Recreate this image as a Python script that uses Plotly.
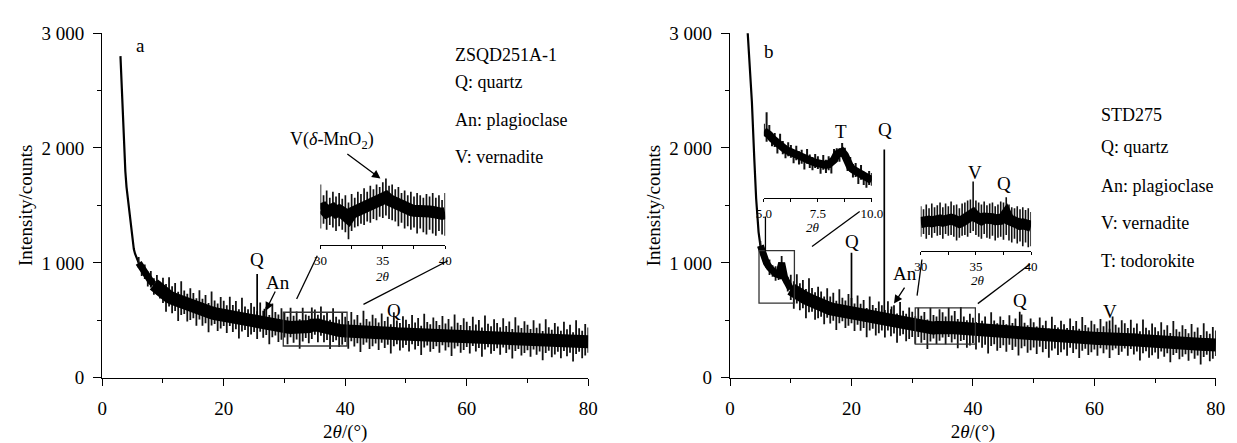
import numpy as np
import plotly.graph_objects as go

W, H = 1237, 443
FONT = "Liberation Serif, Times New Roman, serif"

# ---------------- panel a : ZSQD251A-1 ----------------
a_steep_x = [3.0, 3.2, 3.4, 3.6, 3.8, 4.0, 4.2, 4.4, 4.6, 4.8, 5.0, 5.2, 5.4, 5.6, 5.8, 6.0]
a_steep_y = [2800, 2520, 2250, 2000, 1800, 1660, 1560, 1460, 1360, 1260, 1180, 1120, 1080, 1050, 1025, 1000]

a_start, a_step = 6.0, 0.5
a_mid = [1000, 955, 910, 875, 840, 812, 785, 765, 745, 725,
         705, 692, 680, 668, 655, 645, 635, 623, 612, 602,
         592, 583, 575, 570, 565, 558, 552, 548, 545, 540,
         535, 528, 522, 517, 512, 506, 500, 496, 492, 488,
         485, 478, 472, 467, 462, 458, 455, 450, 445, 441,
         438, 435, 432, 428, 425, 435, 445, 457, 468, 459,
         450, 439, 428, 424, 420, 416, 412, 408, 405, 403,
         402, 401, 400, 399, 398, 396, 395, 394, 393, 391,
         390, 388, 386, 385, 384, 382, 381, 380, 379, 378,
         377, 376, 375, 373, 372, 371, 370, 369, 369, 368,
         368, 367, 366, 365, 365, 364, 363, 362, 362, 361,
         360, 359, 358, 357, 356, 355, 354, 353, 352, 350,
         348, 346, 345, 343, 342, 340, 338, 336, 335, 333,
         331, 330, 328, 326, 325, 324, 323, 321, 320, 319,
         318, 317, 317, 316, 316, 315, 314, 313, 312]
a_hi = [1050, 995, 985, 925, 930, 867, 895, 835, 870, 815,
        875, 797, 825, 748, 840, 760, 730, 778, 737, 692,
        762, 688, 720, 650, 750, 673, 647, 703, 670, 630,
        705, 633, 667, 597, 697, 621, 595, 651, 617, 578,
        655, 583, 617, 547, 647, 573, 550, 605, 570, 531,
        608, 540, 577, 508, 610, 550, 540, 612, 593, 549,
        620, 544, 573, 504, 605, 531, 507, 563, 530, 493,
        572, 506, 545, 479, 583, 511, 490, 549, 518, 481,
        560, 493, 531, 465, 569, 497, 476, 535, 504, 468,
        547, 481, 520, 453, 557, 486, 465, 524, 494, 458,
        538, 472, 511, 445, 550, 479, 458, 517, 487, 451,
        530, 464, 503, 437, 541, 470, 449, 508, 477, 440,
        518, 451, 490, 423, 527, 455, 433, 491, 460, 423,
        501, 435, 473, 406, 510, 439, 418, 476, 445, 409,
        488, 422, 462, 396, 501, 430, 409, 468, 437]
a_lo = [955, 885, 860, 795, 785, 722, 725, 690, 650, 575,
        620, 562, 580, 493, 545, 555, 490, 503, 517, 452,
        507, 453, 475, 395, 455, 468, 407, 428, 450, 390,
        450, 398, 422, 342, 402, 416, 355, 376, 397, 338,
        400, 348, 372, 292, 352, 368, 310, 330, 350, 291,
        353, 305, 332, 253, 315, 345, 300, 337, 373, 309,
        365, 309, 328, 249, 310, 326, 267, 288, 310, 253,
        317, 271, 300, 224, 288, 306, 250, 274, 298, 241,
        305, 258, 286, 210, 274, 292, 236, 260, 284, 228,
        292, 246, 275, 198, 262, 281, 225, 249, 274, 218,
        283, 237, 266, 190, 255, 274, 218, 242, 267, 211,
        275, 229, 258, 182, 246, 265, 209, 233, 257, 200,
        263, 216, 245, 168, 232, 250, 193, 216, 240, 183,
        246, 200, 228, 151, 215, 234, 178, 201, 225, 169,
        233, 187, 217, 141, 206, 225, 169, 193, 217]
a_peak_x = [25.5, 26.7]
a_peak_y = [902, 600]

# inset a (30-40 deg)
ia_start, ia_step = 30.0, 0.25
ia_mid = [440, 445, 430, 438, 442, 430, 436, 428, 420, 405,
          425, 432, 440, 445, 452, 460, 465, 470, 478, 482,
          488, 492, 480, 472, 465, 458, 450, 445, 440, 438,
          435, 432, 435, 430, 428, 432, 430, 425, 428, 422,
          425]
ia_hi = [545, 500, 520, 490, 515, 495, 510, 485, 500, 470,
         505, 490, 515, 505, 530, 515, 540, 525, 545, 535,
         555, 570, 540, 545, 525, 535, 510, 520, 500, 515,
         495, 510, 500, 490, 505, 495, 510, 490, 500, 480,
         510]
ia_lo = [360, 380, 355, 375, 365, 350, 370, 355, 345, 315,
         350, 365, 370, 380, 375, 390, 385, 400, 395, 410,
         405, 415, 400, 395, 390, 370, 385, 360, 370, 355,
         365, 340, 360, 345, 335, 355, 340, 330, 350, 335,
         330]

# ---------------- panel b : STD275 ----------------
b_steep_x = [2.85, 3.2, 3.6, 4.0, 4.3, 4.7, 5.0]
b_steep_y = [3054, 2750, 2400, 1900, 1560, 1268, 1150]

b_start, b_step = 5.0, 0.5
b_mid = [1150, 1070, 1000, 960, 930, 905, 895, 1000, 870, 810,
         772, 750, 730, 717, 705, 692, 680, 665, 650, 637,
         625, 616, 608, 601, 595, 590, 585, 581, 577, 573,
         570, 557, 545, 538, 532, 527, 522, 517, 512, 508,
         505, 500, 495, 490, 485, 480, 475, 468, 462, 456,
         450, 445, 440, 434, 428, 426, 425, 432, 438, 442,
         445, 442, 440, 437, 435, 432, 430, 418, 405, 401,
         398, 395, 392, 390, 388, 386, 385, 382, 380, 378,
         377, 375, 373, 371, 370, 368, 366, 364, 362, 360,
         358, 356, 355, 352, 350, 348, 346, 344, 342, 341,
         340, 342, 345, 346, 348, 346, 344, 343, 342, 341,
         340, 341, 342, 343, 345, 346, 348, 345, 342, 346,
         350, 342, 335, 331, 328, 325, 322, 320, 318, 316,
         315, 314, 313, 312, 312, 310, 308, 306, 305, 302,
         300, 298, 297, 295, 293, 291, 290, 289, 288, 286,
         285]
b_hi = [1190, 1130, 1045, 1030, 980, 970, 940, 1060, 925, 880,
        897, 840, 900, 822, 850, 772, 865, 780, 745, 792,
        750, 706, 778, 706, 740, 670, 770, 696, 672, 728,
        695, 647, 715, 643, 677, 607, 707, 632, 607, 663,
        630, 590, 665, 595, 630, 560, 660, 583, 557, 611,
        575, 535, 610, 539, 573, 506, 610, 547, 533, 597,
        570, 532, 610, 542, 580, 512, 615, 533, 500, 556,
        523, 485, 562, 495, 533, 466, 570, 497, 475, 533,
        502, 465, 543, 476, 515, 448, 551, 479, 457, 515,
        483, 446, 525, 457, 495, 428, 531, 459, 437, 496,
        465, 432, 515, 451, 493, 426, 529, 458, 437, 496,
        465, 431, 512, 448, 490, 426, 533, 460, 437, 501,
        475, 432, 505, 436, 473, 405, 507, 435, 413, 471,
        440, 404, 483, 417, 457, 390, 493, 421, 400, 457,
        425, 388, 467, 400, 438, 371, 475, 404, 383, 441,
        410]
b_lo = [1110, 1015, 955, 895, 880, 845, 850, 945, 820, 750,
        677, 600, 645, 587, 605, 517, 570, 575, 505, 517,
        530, 466, 523, 471, 495, 415, 475, 491, 432, 453,
        475, 407, 460, 408, 432, 352, 412, 427, 367, 388,
        410, 350, 410, 360, 385, 305, 365, 378, 317, 336,
        355, 295, 355, 304, 328, 251, 315, 342, 293, 322,
        350, 292, 355, 307, 335, 257, 320, 328, 260, 281,
        303, 245, 307, 260, 288, 211, 275, 292, 235, 258,
        282, 225, 288, 241, 270, 193, 256, 274, 217, 240,
        263, 206, 270, 222, 250, 173, 236, 254, 197, 221,
        245, 192, 260, 216, 248, 171, 234, 253, 197, 221,
        245, 191, 257, 213, 245, 171, 238, 255, 197, 226,
        255, 192, 250, 201, 228, 150, 212, 230, 173, 196,
        220, 164, 228, 182, 212, 135, 198, 216, 160, 182,
        205, 148, 212, 165, 193, 116, 180, 199, 143, 166,
        190]
b_peak_x = [20.0, 25.4, 26.6, 47.7, 62.5]
b_peak_y = [1087, 1986, 620, 575, 498]

# inset b1 (5-10 deg)
ib1_start, ib1_step = 5.0, 0.125
ib1_mid = [1150, 1140, 1120, 1095, 1075, 1062, 1050, 1030, 1010, 1000,
           990, 978, 965, 958, 950, 942, 935, 928, 920, 912,
           905, 900, 895, 895, 900, 912, 935, 975, 985, 995,
           970, 920, 880, 862, 850, 832, 815, 800, 790, 785,
           780]
ib1_hi = [1205, 1290, 1195, 1135, 1135, 1087, 1130, 1075, 1045, 1065,
          1045, 1008, 1040, 998, 1010, 967, 1015, 973, 955, 977,
          960, 930, 970, 935, 960, 937, 1015, 1020, 1020, 1060,
          1025, 950, 955, 902, 910, 857, 895, 845, 825, 850,
          835]
ib1_lo = [1110, 1070, 1085, 1035, 1030, 982, 1020, 975, 945, 960,
          950, 908, 930, 898, 905, 862, 905, 873, 855, 872,
          865, 830, 860, 835, 855, 832, 905, 920, 920, 955,
          930, 850, 845, 802, 805, 752, 785, 745, 725, 745,
          740]

# inset b2 (30-40 deg)
ib2_start, ib2_step = 30.0, 0.25
ib2_mid = [425, 430, 420, 432, 428, 435, 430, 438, 432, 440,
           436, 442, 438, 430, 425, 432, 440, 445, 450, 470,
           455, 445, 440, 448, 442, 438, 445, 440, 435, 442,
           450, 470, 440, 430, 425, 420, 415, 418, 410, 412,
           405]
ib2_hi = [510, 495, 520, 500, 525, 505, 515, 530, 505, 525,
          510, 535, 515, 520, 500, 525, 530, 540, 545, 640,
          540, 530, 520, 535, 515, 525, 530, 510, 520, 535,
          530, 557, 520, 505, 500, 510, 495, 505, 490, 500,
          480]
ib2_lo = [350, 365, 340, 360, 345, 370, 355, 360, 340, 365,
          355, 360, 350, 330, 345, 355, 360, 350, 370, 380,
          360, 350, 340, 365, 345, 340, 355, 330, 345, 350,
          335, 360, 330, 320, 340, 315, 325, 300, 320, 295,
          300]

# axis tick labels
y_tickvals = [0, 1000, 2000, 3000]
y_ticktext = ["0", "1 000", "2 000", "3 000"]
x_tickvals = [0, 20, 40, 60, 80]


def grid(start, step, n):
    return [round(start + step * i, 4) for i in range(n)]


def spikes(xs, lo, hi):
    sx, sy = [], []
    for x, l, h in zip(xs, lo, hi):
        sx += [x, x, None]
        sy += [l, h, None]
    return sx, sy


fig = go.Figure()


def line(x, y, xa, ya, w, color="black"):
    fig.add_trace(go.Scatter(x=x, y=y, mode="lines", xaxis=xa, yaxis=ya,
                             line=dict(color=color, width=w),
                             hoverinfo="skip", showlegend=False))


def band(start, step, mid, lo, hi, xa, ya, core_w, spike_w, thin_n=0, thin_w=6):
    xs = grid(start, step, len(mid))
    sx, sy = spikes(xs, lo, hi)
    line(sx, sy, xa, ya, spike_w, "#111111")
    if thin_n:
        # narrower core where the scan leaves the steep low-angle rise
        line(xs[:thin_n], mid[:thin_n], xa, ya, thin_w)
        line(xs[thin_n - 1:], mid[thin_n - 1:], xa, ya, core_w)
    else:
        line(xs, mid, xa, ya, core_w)
    return xs


# panel a
line(a_steep_x, a_steep_y, "x", "y", 2.2)
a_x = band(a_start, a_step, a_mid, a_lo, a_hi, "x", "y", 13, 1.8, thin_n=6, thin_w=7)
for px_, py_ in zip(a_peak_x, a_peak_y):
    base = float(np.interp(px_, a_x, a_mid))
    line([px_, px_], [base, py_], "x", "y", 1.7)

# panel b
line(b_steep_x, b_steep_y, "x2", "y2", 2.2)
b_x = band(b_start, b_step, b_mid, b_lo, b_hi, "x2", "y2", 13, 1.8, thin_n=11, thin_w=7)
for px_, py_ in zip(b_peak_x, b_peak_y):
    base = float(np.interp(px_, b_x, b_mid))
    line([px_, px_], [base, py_], "x2", "y2", 1.7)

# insets
band(ia_start, ia_step, ia_mid, ia_lo, ia_hi, "x3", "y3", 12, 1.7)
band(ib1_start, ib1_step, ib1_mid, ib1_lo, ib1_hi, "x4", "y4", 8, 2.0)
band(ib2_start, ib2_step, ib2_mid, ib2_lo, ib2_hi, "x5", "y5", 11, 1.6)


def dx(p0, p1):
    return [p0 / W, p1 / W]


def dy(top, bottom):
    return [1 - bottom / H, 1 - top / H]


tickfont = dict(family=FONT, size=19, color="black")
small = dict(family=FONT, size=13, color="black")


def main_x(domain, anchor):
    return dict(domain=domain, anchor=anchor, range=[0, 80], showline=True,
                linecolor="black", linewidth=1.3, ticks="outside", ticklen=7,
                tickwidth=1.3, tickcolor="black", tickvals=x_tickvals,
                minor=dict(ticks="outside", ticklen=4, tickvals=[10, 30, 50, 70],
                           tickcolor="black", tickwidth=1.3),
                showgrid=False, zeroline=False, tickfont=tickfont,
                ticklabelstandoff=6, fixedrange=True, automargin=False,
                title=dict(text="2<i>θ</i>/(°)", standoff=9,
                           font=dict(family=FONT, size=19, color="black")))


def main_y(anchor):
    return dict(domain=dy(24.3, 386), anchor=anchor, range=[0, 3000],
                showline=True, linecolor="black", linewidth=1.3,
                ticks="outside", ticklen=8, tickwidth=1.3, tickcolor="black",
                tickvals=y_tickvals, ticktext=y_ticktext,
                minor=dict(ticks="outside", ticklen=4, tickvals=[500, 1500, 2500],
                           tickcolor="black", tickwidth=1.3),
                showgrid=False, zeroline=False, tickfont=tickfont,
                ticklabelstandoff=5, fixedrange=True)


def inset_x(domain, anchor, rng, tv, tt, minor):
    return dict(domain=domain, anchor=anchor, range=rng, showline=True,
                linecolor="black", linewidth=1.1, ticks="outside", ticklen=3,
                tickwidth=1, tickcolor="black", tickvals=tv, ticktext=tt,
                minor=dict(ticks="outside", ticklen=3, tickvals=minor,
                           tickcolor="black", tickwidth=1),
                showgrid=False, zeroline=False, tickfont=small,
                ticklabelstandoff=0, fixedrange=True)


def inset_y(domain, anchor, rng):
    return dict(domain=domain, anchor=anchor, range=rng, visible=False,
                fixedrange=True)


fig.update_layout(
    width=W, height=H, margin=dict(l=0, r=0, t=0, b=0),
    paper_bgcolor="white", plot_bgcolor="rgba(0,0,0,0)",
    showlegend=False,
    font=dict(family=FONT, color="black"),
    xaxis=main_x(dx(95.7, 589.3), "y"),
    yaxis=main_y("x"),
    xaxis2=main_x(dx(733.3, 1226.7), "y2"),
    yaxis2=main_y("x2"),
    xaxis3=inset_x(dx(317.3, 444), "y3", [30, 40], [30, 35, 40], ["30", "35", "40"], [32.5, 37.5]),
    yaxis3=inset_y(dy(165, 247), "x3", [290, 618]),
    xaxis4=inset_x(dx(767.7, 877.3), "y4", [5, 10], [5, 7.5, 10], ["5.0", "7.5", "10.0"], [6.25, 8.75]),
    yaxis4=inset_y(dy(100, 197.7), "x4", [645, 1343]),
    xaxis5=inset_x(dx(927, 1039), "y5", [30, 40], [30, 35, 40], ["30", "35", "40"], [32.5, 37.5]),
    yaxis5=inset_y(dy(160, 253.3), "x5", [274, 740]),
)

# zoom boxes and connector lines (main-axis coordinates)
shapes = []


def rect(xr, yr, x0, x1, y0, y1):
    shapes.append(dict(type="rect", xref=xr, yref=yr, x0=x0, x1=x1, y0=y0, y1=y1,
                       line=dict(color="#333333", width=1.3)))


def seg(xr, yr, x0, y0, x1, y1):
    shapes.append(dict(type="line", xref=xr, yref=yr, x0=x0, y0=y0, x1=x1, y1=y1,
                       line=dict(color="black", width=1.3)))


rect("x", "y", 29.8, 40.3, 276, 570)
seg("x", "y", 32.0, 686, 35.4, 1062)
seg("x", "y", 43.0, 639, 56.9, 1018)
rect("x2", "y2", 4.77, 10.6, 650, 1106)
rect("x2", "y2", 30.5, 40.4, 293, 608)
seg("x2", "y2", 5.83, 1104, 5.83, 1404)
seg("x2", "y2", 13.5, 1143, 21.35, 1447)
seg("x2", "y2", 30.8, 714, 31.6, 1029)
seg("x2", "y2", 40.8, 645, 49.4, 989)
fig.update_layout(shapes=shapes)

ann = []


def txt(x, y, s, size=18, xanchor="center", yanchor="middle"):
    ann.append(dict(x=x / W, y=1 - y / H, xref="paper", yref="paper", text=s,
                    showarrow=False, xanchor=xanchor, yanchor=yanchor,
                    font=dict(family=FONT, size=size, color="black")))


def arrow(xr, yr, hx, hy, tx, ty):
    ann.append(dict(x=hx, y=hy, ax=tx, ay=ty, xref=xr, yref=yr, axref=xr, ayref=yr,
                    text="", showarrow=True, arrowhead=2, arrowsize=1.3,
                    arrowwidth=1.3, arrowcolor="black"))


# y-axis titles
txt(18, 205, "Intensity/counts", 19)
ann[-1]["textangle"] = -90
txt(655, 205, "Intensity/counts", 19)
ann[-1]["textangle"] = -90

# panel a labels
txt(135, 37, "a", 19)
txt(451.7, 47.7, "ZSQD251A-1", 18, "left")
txt(451.7, 75.7, "Q: quartz", 18, "left")
txt(451.7, 115, "An: plagioclase", 18, "left")
txt(451.7, 154.3, "V: vernadite", 18, "left")
txt(329, 137, "V(<i>δ</i>-MnO<sub>2</sub>)", 18)
txt(253, 262, "Q", 19)
txt(274, 286, "An", 19)
txt(391.7, 315, "Q", 19)
txt(381, 280, "<i>2θ</i>", 13)
arrow("x", "y", 45.8, 1734, 40.1, 1958)
arrow("x", "y", 26.9, 583, 28.6, 763)

# panel b labels
txt(773.3, 43.3, "b", 19)
txt(1108.3, 110, "STD275", 18, "left")
txt(1108.3, 144.3, "Q: quartz", 18, "left")
txt(1108.3, 184.3, "An: plagioclase", 18, "left")
txt(1108.3, 223.5, "V: vernadite", 18, "left")
txt(1108.3, 263.3, "T: todorokite", 18, "left")
txt(846, 127.7, "T", 19)
txt(890.7, 125, "Q", 19)
txt(856.7, 242.7, "Q", 19)
txt(911, 277, "An", 19)
txt(1027.7, 305, "Q", 19)
txt(1119, 316.7, "V", 19)
txt(981.7, 171, "V", 19)
txt(1011.7, 181.7, "Q", 19)
txt(818, 228, "<i>2θ</i>", 13)
txt(985, 284, "<i>2θ</i>", 13)
arrow("x2", "y2", 27.0, 645, 28.9, 797)

fig.update_layout(annotations=ann)
fig.write_html("out.html")
